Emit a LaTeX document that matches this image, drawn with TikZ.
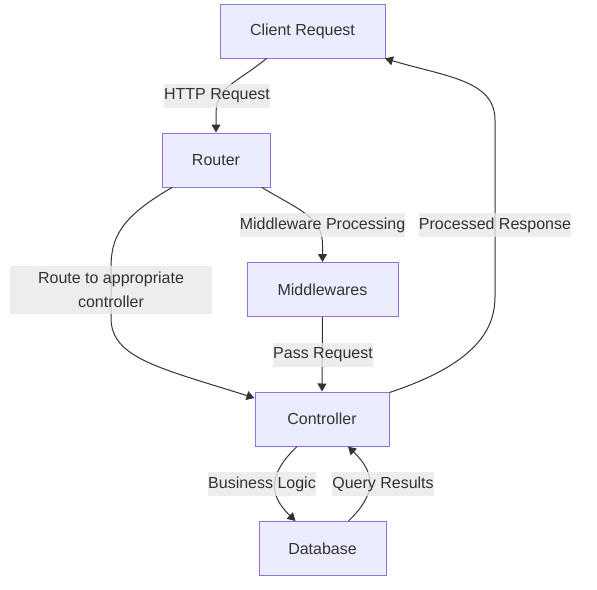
\documentclass[tikz,border=0pt]{standalone}
\usepackage{fontspec}
\setmainfont{Liberation Sans}
\usetikzlibrary{arrows.meta}
\definecolor{nodefill}{HTML}{ECECFF}
\definecolor{nodeborder}{HTML}{9370DB}
\definecolor{labelbg}{HTML}{E8E8E8}
\definecolor{ink}{HTML}{333333}
\tikzset{
  proc/.style={draw=nodeborder, fill=nodefill, line width=1pt, inner sep=0pt,
    minimum height=54pt, text=ink, font=\fontsize{16}{24}\selectfont},
  elabel/.style={fill=labelbg, fill opacity=0.8, text opacity=1, inner sep=0pt,
    minimum height=24pt, text=ink, font=\fontsize{16}{24}\selectfont, align=center},
  edge/.style={draw=ink, line width=1pt, -{Triangle[length=8pt,width=9pt]}}
}
\begin{document}
\begin{tikzpicture}[x=1pt,y=-1pt]
\useasboundingbox (0,0) rectangle (597,589);
% nodes
\node[proc, minimum width=165pt] (client) at (302.5,31) {Client Request};
\node[proc, minimum width=108pt] (router) at (216,160) {Router};
\node[proc, minimum width=151pt] (mw) at (322.5,289.5) {Middlewares};
\node[proc, minimum width=134pt] (ctrl) at (322,419) {Controller};
\node[proc, minimum width=127pt] (db) at (322.5,548.5) {Database};
% edges
\draw[edge] ([xshift=-36pt]client.south) .. controls +(-32,26) and +(0,-28) .. ([yshift=18pt]router.north) -- (router.north);
\draw[edge] ([xshift=46pt]router.south) .. controls +(38,23) and +(0,-28) .. ([yshift=17pt]mw.north) -- (mw.north);
\draw[edge] ([xshift=-44pt]router.south) .. controls +(-52,30) and +(0,-30) .. (111,268) -- (111,318)
  .. controls +(0,40) and +(-95,-30) .. ([yshift=21pt]ctrl.west);
\draw[edge] (mw.south) -- (ctrl.north);
\draw[edge] ([yshift=-1pt]ctrl.north east) .. controls +(75,-25) and +(0,40) .. (495,297) -- (495,120)
  .. controls +(0,-40) and +(60,18) .. ([xshift=-0.5pt]client.south east);
\draw[edge] ([xshift=-25pt]ctrl.south) .. controls +(-28,27) and +(-28,-27) .. ([xshift=-27pt]db.north);
\draw[edge] ([xshift=26pt]db.north) .. controls +(28,-27) and +(28,27) .. ([xshift=26pt]ctrl.south);
% labels
\node[elabel, minimum width=100pt] (l1) at (217,96) {HTTP Request};
\node[elabel, minimum width=163pt] (l2) at (322.5,225) {Middleware Processing};
\node[elabel, minimum width=202pt, minimum height=48pt] (l3) at (111,290) {Route to appropriate\\controller};
\node[elabel, minimum width=92pt] (l4) at (323,354.5) {Pass Request};
\node[elabel, minimum width=142pt] (l5) at (495,225) {Processed Response};
\node[elabel, minimum width=102pt] (l6) at (262,484) {Business Logic};
\node[elabel, minimum width=98pt] (l7) at (383,484) {Query Results};
\end{tikzpicture}
\end{document}
